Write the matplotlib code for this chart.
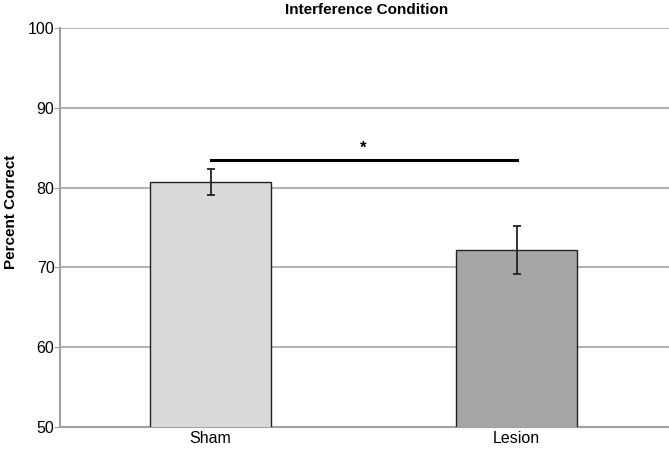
import matplotlib
matplotlib.use("Agg")
import matplotlib.pyplot as plt

categories = ["Sham", "Lesion"]
values = [80.7, 72.2]
errors = [1.6, 3.0]
colors = ["#d9d9d9", "#a6a6a6"]
sig_level = 83.4
sig_label = "*"

plt.rcParams['font.family'] = ['Liberation Sans', 'DejaVu Sans']

fig = plt.figure(figsize=(6.69, 4.5), dpi=100)
ax = fig.add_axes([60/669, 23/450, 609/669, 399/450])

x = list(range(len(categories)))
ax.bar(x, values, width=0.395, color=colors, edgecolor="#222222", linewidth=1.0, zorder=3)
ax.errorbar(x, values, yerr=errors, fmt="none", ecolor="#222222", elinewidth=1.3,
            capsize=3, capthick=1.3, zorder=4)

ax.plot([x[0], x[1]], [sig_level, sig_level], color="black", lw=2.2, zorder=4)
ax.text((x[0] + x[1]) / 2, sig_level + 0.6, sig_label, ha="center", va="bottom",
        fontsize=12, fontweight="bold")

ax.set_xlim(-0.492, 1.498)
ax.set_ylim(50, 100)
ax.set_yticks([50, 60, 70, 80, 90, 100])
ax.set_xticks(x)
ax.set_xticklabels(categories, fontsize=11.5)
ax.tick_params(axis="y", length=4, color="#a0a0a0", labelsize=11.5, pad=0)
ax.tick_params(axis="x", length=0, labelsize=11.5, pad=3)
ax.yaxis.grid(True, color="#b4b4b4", linewidth=1.5, zorder=0)
ax.set_axisbelow(True)
for s in ["top", "right"]:
    ax.spines[s].set_visible(False)
for s in ["left", "bottom"]:
    ax.spines[s].set_color("#a0a0a0")
    ax.spines[s].set_linewidth(1.5)

fig.text(11/669, 1 - 212/450, "Percent Correct", rotation=90, ha="center", va="center",
         fontsize=11, fontweight="bold")
fig.text(367/669, 1 - 10/450, "Interference Condition", ha="center", va="center",
         fontsize=11, fontweight="bold")

fig.savefig("out.png", dpi=100)
